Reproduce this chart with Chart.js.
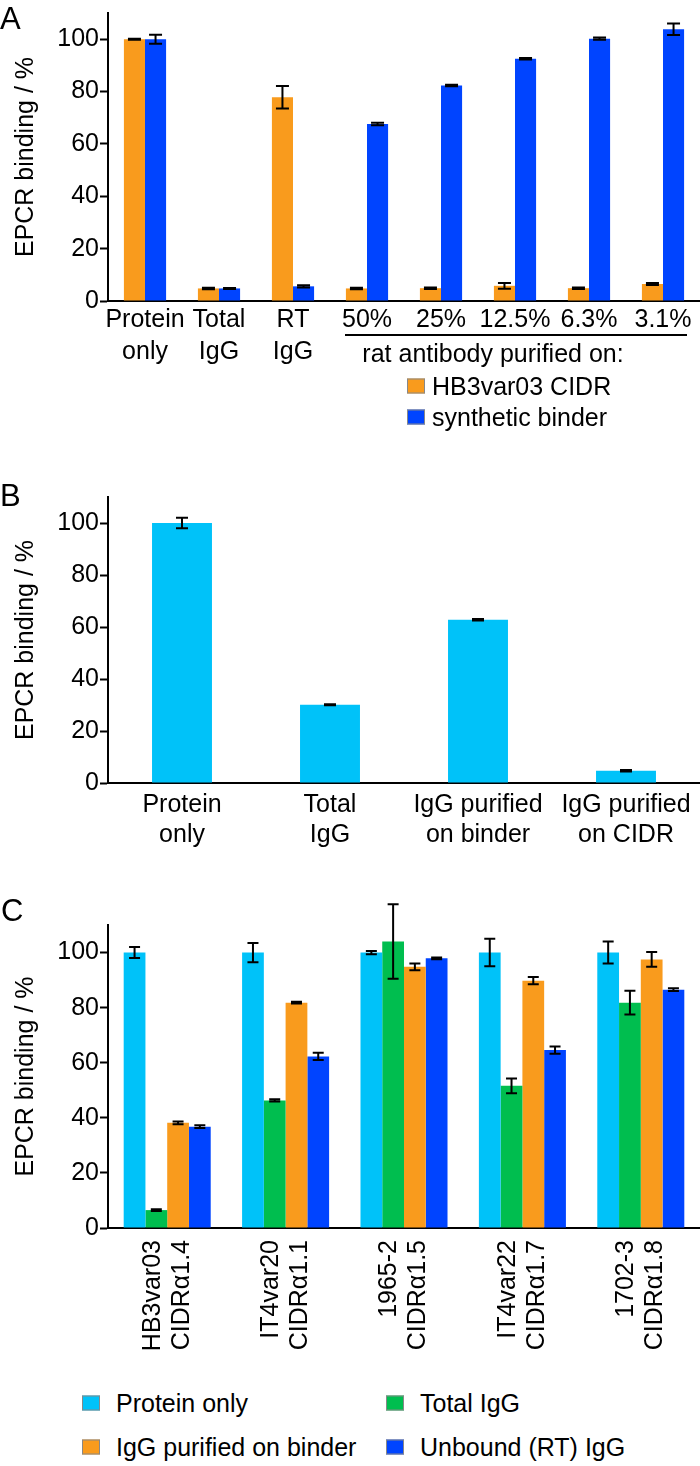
<!DOCTYPE html>
<html>
<head>
<meta charset="utf-8">
<script src="https://cdn.jsdelivr.net/npm/chart.js@4.4.1/dist/chart.umd.min.js"></script>
<style>
  body { margin: 0; background: #fff; }
  #page { position: relative; width: 700px; height: 1466px; font-family: "Liberation Sans", Arial, sans-serif; color: #000; overflow: hidden; }
  canvas { position: absolute; left: 0; }
  .txt { position: absolute; font-size: 25px; line-height: 1; white-space: nowrap; transform: translateY(-50%); }
  .letter { font-size: 31px; }
  .sw { position: absolute; width: 18px; height: 15px; border: 1px solid #888; box-sizing: border-box; transform: translateY(-50%); }
</style>
</head>
<body>
<div id="page">
  <canvas id="chartA" width="700" height="440" style="top:0px"></canvas>
  <canvas id="chartB" width="700" height="400" style="top:470px"></canvas>
  <canvas id="chartC" width="700" height="500" style="top:880px"></canvas>

  <div class="txt letter" style="left:0px; top:18px">A</div>
  <div class="txt letter" style="left:0px; top:495px">B</div>
  <div class="txt letter" style="left:1px; top:910px">C</div>

  <!-- leyenda y anotación del panel A -->
  <div style="position:absolute; left:345px; top:334px; width:342px; height:2px; background:#000"></div>
  <div class="txt" style="left:493px; top:353px; transform:translate(-50%,-50%)">rat antibody purified on:</div>
  <div class="sw" style="left:407px; top:386px; background:#F99B1D"></div>
  <div class="txt" style="left:432px; top:386px">HB3var03 CIDR</div>
  <div class="sw" style="left:407px; top:417px; background:#0044FF"></div>
  <div class="txt" style="left:432px; top:417px">synthetic binder</div>

  <!-- leyenda del panel C -->
  <div class="sw" style="left:82px; top:1403px; background:#00C2F9"></div>
  <div class="txt" style="left:116px; top:1403px">Protein only</div>
  <div class="sw" style="left:386px; top:1403px; background:#00BE4F"></div>
  <div class="txt" style="left:420px; top:1403px">Total IgG</div>
  <div class="sw" style="left:82px; top:1447px; background:#F99B1D"></div>
  <div class="txt" style="left:116px; top:1447px">IgG purified on binder</div>
  <div class="sw" style="left:386px; top:1447px; background:#0044FF"></div>
  <div class="txt" style="left:420px; top:1447px">Unbound (RT) IgG</div>
</div>

<script>
const FONT = '"Liberation Sans", Arial, sans-serif';
const yTicks = [0, 20, 40, 60, 80, 100];

// Panel A
const catsA = [["Protein", "only"], ["Total", "IgG"], ["RT", "IgG"], "50%", "25%", "12.5%", "6.3%", "3.1%"];
const cidrA = [100, 4.8, 77.8, 4.8, 4.9, 5.8, 4.9, 6.5];
const cidrErrA = [0.2, 0.3, 4.3, 0.3, 0.3, 1.1, 0.3, 0.4];
const binderA = [100, 4.8, 5.6, 67.6, 82.3, 92.5, 100.2, 103.8];
const binderErrA = [1.7, 0.2, 0.4, 0.5, 0.3, 0.3, 0.4, 2.2];

// Panel B
const catsB = [["Protein", "only"], ["Total", "IgG"], ["IgG purified", "on binder"], ["IgG purified", "on CIDR"]];
const valsB = [100, 30.1, 62.8, 4.7];
const errB = [2.0, 0.2, 0.3, 0.3];

// Panel C
const catsC = [["HB3var03", "CIDRα1.4"], ["IT4var20", "CIDRα1.1"], ["1965-2", "CIDRα1.5"], ["IT4var22", "CIDRα1.7"], ["1702-3", "CIDRα1.8"]];
const proteinC = [100, 100, 100, 100, 100];
const proteinErrC = [2.0, 3.5, 0.6, 5.0, 4.0];
const totalC = [6.5, 46.3, 104, 51.6, 81.8];
const totalErrC = [0.3, 0.4, 13.5, 2.7, 4.3];
const binderC = [38.2, 81.8, 94.8, 89.8, 97.5];
const binderErrC = [0.5, 0.3, 1.2, 1.3, 2.7];
const unboundC = [36.8, 62.3, 97.9, 64.6, 86.5];
const unboundErrC = [0.5, 1.3, 0.3, 1.3, 0.5];

const ORANGE = "#F99B1D", BLUE = "#0044FF", CYAN = "#00C2F9", GREEN = "#00BE4F";

// Barras de error dibujadas con la escala y del gráfico
const errorBars = {
    id: "errorBars",
    afterDatasetsDraw(chart) {
        const ctx = chart.ctx;
        const y = chart.scales.y;
        chart.data.datasets.forEach((ds, di) => {
            if (!ds.errors) return;
            const meta = chart.getDatasetMeta(di);
            meta.data.forEach((bar, i) => {
                const v = ds.data[i], e = ds.errors[i];
                const top = y.getPixelForValue(v + e);
                const bot = y.getPixelForValue(v - e);
                const half = ds.capWidth / 2;
                ctx.save();
                ctx.strokeStyle = "#000";
                ctx.lineWidth = 2;
                ctx.beginPath();
                ctx.moveTo(bar.x, top); ctx.lineTo(bar.x, bot);
                ctx.moveTo(bar.x - half, top); ctx.lineTo(bar.x + half, top);
                ctx.moveTo(bar.x - half, bot); ctx.lineTo(bar.x + half, bot);
                ctx.stroke();
                ctx.restore();
            });
        });
    }
};

function makeChart(id, cats, datasets, o) {
    return new Chart(document.getElementById(id), {
        type: "bar",
        data: { labels: cats, datasets: datasets },
        options: {
            responsive: false,
            animation: false,
            layout: { padding: { top: o.top, left: 0, right: 0, bottom: 0 } },
            plugins: { legend: { display: false }, tooltip: { enabled: false } },
            datasets: { bar: { categoryPercentage: o.cat, barPercentage: 1 } },
            scales: {
                x: {
                    grid: { display: false, drawTicks: false, tickLength: 0 },
                    border: { color: "#000", width: 2 },
                    ticks: {
                        color: "#000",
                        font: { size: 25, family: FONT, lineHeight: o.lh },
                        padding: o.pad,
                        maxRotation: o.rot,
                        minRotation: o.rot,
                        autoSkip: false,
                        labelOffset: o.labelOffset || 0
                    },
                    afterFit: s => { s.height = o.h - o.axisY; s.paddingLeft = 0; s.paddingRight = 0; }
                },
                y: {
                    min: 0,
                    max: 110,
                    afterBuildTicks: s => { s.ticks = yTicks.map(v => ({ value: v })); },
                    grid: { drawOnChartArea: false, tickLength: 8, tickWidth: 2, tickColor: "#000" },
                    border: { color: "#000", width: 2 },
                    ticks: { color: "#000", font: { size: 25, family: FONT }, padding: 1 },
                    title: {
                        display: true,
                        text: "EPCR binding / %",
                        color: "#000",
                        font: { size: 25, family: FONT },
                        padding: { top: 11, bottom: 0 }
                    },
                    afterFit: s => { s.width = 108; s.paddingTop = 0; s.paddingBottom = 0; }
                }
            }
        },
        plugins: [errorBars]
    });
}

makeChart("chartA", catsA, [
    { label: "HB3var03 CIDR", data: cidrA, errors: cidrErrA, capWidth: 13, backgroundColor: ORANGE },
    { label: "synthetic binder", data: binderA, errors: binderErrA, capWidth: 13, backgroundColor: BLUE }
], { top: 13, h: 440, axisY: 301, cat: 0.57, lh: 1.28, pad: 3, rot: 0 });

makeChart("chartB", catsB, [
    { label: "EPCR binding", data: valsB, errors: errB, capWidth: 12, backgroundColor: CYAN }
], { top: 27, h: 400, axisY: 313, cat: 0.405, lh: 1.2, pad: 7, rot: 0 });

makeChart("chartC", catsC, [
    { label: "Protein only", data: proteinC, errors: proteinErrC, capWidth: 11, backgroundColor: CYAN },
    { label: "Total IgG", data: totalC, errors: totalErrC, capWidth: 11, backgroundColor: GREEN },
    { label: "IgG purified on binder", data: binderC, errors: binderErrC, capWidth: 11, backgroundColor: ORANGE },
    { label: "Unbound (RT) IgG", data: unboundC, errors: unboundErrC, capWidth: 11, backgroundColor: BLUE }
], { top: 45, h: 500, axisY: 348, cat: 0.735, lh: 1.16, pad: 12, rot: 90, labelOffset: -14.5 });
</script>
</body>
</html>
